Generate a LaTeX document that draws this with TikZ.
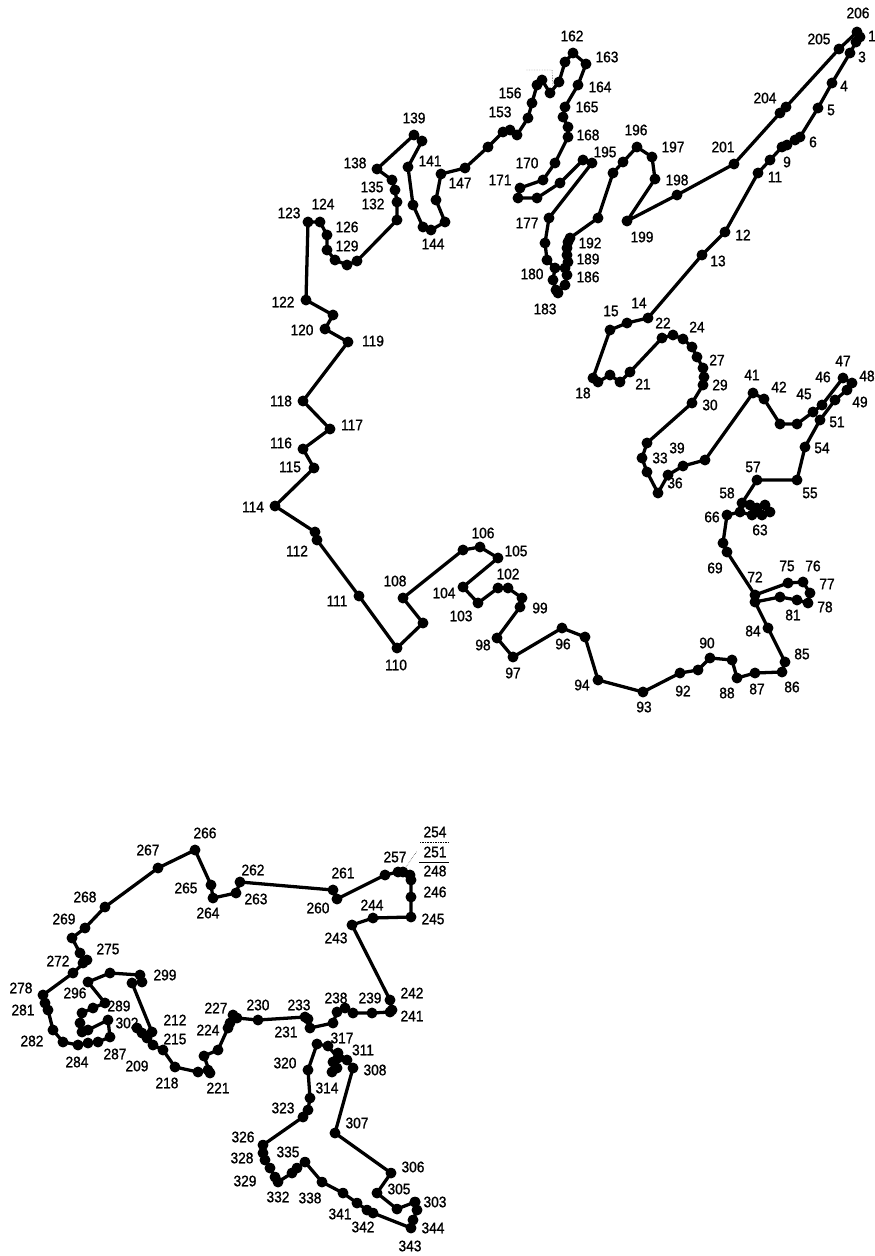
\documentclass[tikz,border=0pt]{standalone}
\usepackage{fontspec}
\newfontfamily\labfont[FakeStretch=0.9,FakeBold=1.2]{Liberation Sans}
\begin{document}
\begin{tikzpicture}[x=0.03cm,y=-0.03cm,
  chain/.style={line width=2.8pt,line join=round,line cap=round},
  dots/.style={mark=*,mark size=3.2pt},
  lab/.style={font=\labfont\fontsize{13}{13}\selectfont,inner sep=0pt}]
\useasboundingbox (0,0) rectangle (875,1256);
% top chain 1..206
\draw[chain] plot[dots] coordinates {
(860,37) (856,42) (850,53) (832,83) (818,108) (800,137) (795,140) (787,145) (782,147) (770,160) (758,173) (725,232) (702,255) (648,318) (627,323) (610,330) (593,378) (598,382) (610,375) (620,382) (630,372) (662,338) (673,335) (683,339) (692,347) (697,357) (703,368) (704,377) (703,385) (692,403) (647,443) (642,458) (647,472) (658,493) (668,475) (683,466) (705,460) (753,393) (764,399) (780,424) (797,424) (813,412) (822,405) (843,378) (852,383) (847,390) (835,400) (820,420) (805,447) (797,480) (757,480) (742,503) (750,505) (757,508) (765,505) (770,512) (762,515) (752,515) (740,512) (727,515) (723,543) (727,552) (755,595) (788,583) (803,582) (810,593) (808,603) (797,600) (780,597) (755,602) (768,628) (785,662) (782,672) (755,673) (737,678) (732,660) (710,658) (698,670) (680,673) (643,692) (598,680) (585,637) (562,628) (513,657) (497,638) (520,607) (522,598) (508,588) (498,588) (478,603) (463,587) (498,558) (480,547) (463,550) (403,598) (423,623) (397,648) (359,596) (317,540) (315,532) (275,506) (314,468) (303,449) (330,429) (303,401) (348,342) (325,329) (333,315) (306,300) (308,222) (320,222) (327,235) (327,250) (335,260) (347,265) (357,261) (397,220) (397,202) (395,190) (392,180) (377,169) (414,135) (422,141) (408,167) (413,205) (423,227) (431,230) (445,222) (436,200) (441,174) (465,168) (488,147) (503,132) (510,130) (517,135) (528,118) (532,103) (537,85) (542,80) (550,93) (559,82) (565,62) (573,53) (586,64) (578,85) (565,107) (563,117) (568,127) (568,137) (555,163) (543,180) (520,188) (518,198) (537,198) (560,183) (583,160) (592,163) (549,218) (545,243) (547,260) (555,268) (553,280) (556,290) (558,293) (565,285) (567,275) (565,268) (568,262) (567,255) (567,248) (568,242) (570,238) (598,218) (613,173) (623,162) (637,147) (652,157) (655,179) (627,221) (677,195) (734,164) (780,113) (786,107) (839,49) (857,32)};
% bottom chain 209..302
\draw[chain] plot[dots] coordinates {
(137,1028) (142,1033) (147,1038) (153,1045) (163,1050) (175,1067) (198,1072) (208,1070) (210,1073) (204,1056) (218,1050) (228,1028) (230,1023) (233,1015) (237,1018) (258,1020) (305,1017) (308,1019) (310,1028) (333,1023) (337,1012) (345,1008) (353,1013) (372,1013) (390,1012) (392,1010) (390,1000) (352,925) (373,918) (411,917) (411,897) (411,880) (410,875) (403,872) (398,872) (385,875) (337,899) (333,890) (240,882) (236,893) (213,898) (211,885) (195,850) (158,868) (105,907) (85,928) (72,938) (80,953) (83,963) (87,960) (73,973) (43,995) (45,1003) (48,1010) (53,1030) (63,1042) (78,1045) (88,1043) (98,1042) (110,1037) (108,1020) (88,1030) (82,1032) (80,1023) (82,1013) (93,1008) (105,1003) (88,982) (110,973) (140,975) (142,982) (132,983) (152,1032)};
% bottom chain 303..344
\draw[chain] plot[dots] coordinates {
(415,1202) (397,1209) (377,1193) (391,1173) (335,1133) (353,1068) (347,1060) (338,1053) (333,1062) (332,1072) (337,1068) (338,1058) (328,1046) (317,1044) (308,1070) (310,1098) (308,1110) (303,1117) (263,1145) (263,1153) (265,1160) (270,1168) (275,1177) (278,1182) (292,1173) (297,1168) (305,1162) (322,1182) (343,1193) (357,1203) (367,1210) (373,1213) (411,1228) (413,1220) (417,1210) (415,1202)};
% labels
\foreach \x/\y/\t in {
872/36/1, 862/57/3, 844/86/4, 831/110/5, 813/142/6, 787/162/9, 775/177/11, 743/235/12, 718/261/13,
639/303/14, 611/311/15, 663/323/22, 697/327/24, 583/393/18, 643/384/21, 717/360/27, 720/385/29, 710/405/30,
752/375/41, 779/387/42, 804/394/45, 823/377/46, 843/361/47, 867/376/48, 860/402/49, 837/422/51, 822/448/54,
660/458/33, 677/448/39, 675/483/36, 753/467/57, 810/493/55, 727/493/58, 712/517/66, 760/530/63,
715/568/69, 755/577/72, 787/566/75, 813/566/76, 827/584/77, 825/607/78, 793/615/81, 753/631/84,
802/654/85, 792/687/86, 757/689/87, 727/693/88, 707/643/90, 683/691/92, 644/707/93,
483/533/106, 516/551/105, 508/574/102, 395/581/108, 444/593/104, 461/616/103, 540/608/99, 483/645/98,
563/644/96, 513/673/97, 396/665/110, 582/685/94,
283/302/122, 302/330/120, 373/341/119, 281/401/118, 352/425/117, 281/443/116, 290/467/115, 253/507/114,
297/551/112, 337/601/111,
289/213/123, 323/204/124, 347/227/126, 347/246/129, 372/187/135, 373/204/132, 355/163/138, 414/118/139,
430/161/141, 433/244/144, 460/183/147,
572/36/162, 607/57/163, 510/93/156, 600/87/164, 500/112/153, 587/107/165, 588/135/168, 527/163/170,
500/180/171, 605/152/195, 527/223/177, 590/243/192, 588/259/189, 532/274/180, 588/277/186, 545/309/183,
636/130/196, 673/147/197, 677/180/198, 642/237/199, 723/147/201, 765/98/204, 819/39/205, 858/13/206,
205/833/266, 148/850/267, 186/888/265, 208/913/264, 85/897/268, 64/919/269, 108/949/275, 58/961/272,
21/988/278, 75/993/296, 119/1006/289, 165/975/299, 23/1010/281, 127/1023/302, 175/1020/212, 216/1008/227,
208/1030/224, 32/1041/282, 175/1039/215, 77/1062/284, 115/1054/287, 137/1066/209, 167/1083/218, 218/1088/221,
435/832/254, 435/852/251, 395/857/257, 435/871/248, 253/870/262, 343/873/261, 435/892/246, 256/899/263,
318/908/260, 372/905/244, 433/919/245, 336/938/243, 412/993/242, 336/998/238, 370/998/239, 258/1005/230,
299/1005/233, 412/1016/241, 286/1032/231,
342/1038/317, 363/1050/311, 285/1063/320, 375/1070/308, 327/1088/314, 283/1108/323, 357/1123/307,
243/1137/326, 288/1152/335, 242/1158/328, 413/1167/306, 245/1181/329, 399/1189/305, 435/1202/303,
278/1197/332, 310/1198/338, 340/1214/341, 433/1228/344, 363/1227/342, 410/1246/343}
  \node[lab] (n\t) at (\x,\y) {\t};
% small leader marks
\draw[densely dotted,line width=0.4pt] (526,70) -- (552,70) -- (553,86);
\draw[densely dotted,line width=0.4pt] (420,842) -- (449,842);
\draw[line width=0.8pt] (419,862) -- (449,862);
\draw[densely dotted,line width=0.4pt] (406,867) -- (417,851);
\end{tikzpicture}
\end{document}
